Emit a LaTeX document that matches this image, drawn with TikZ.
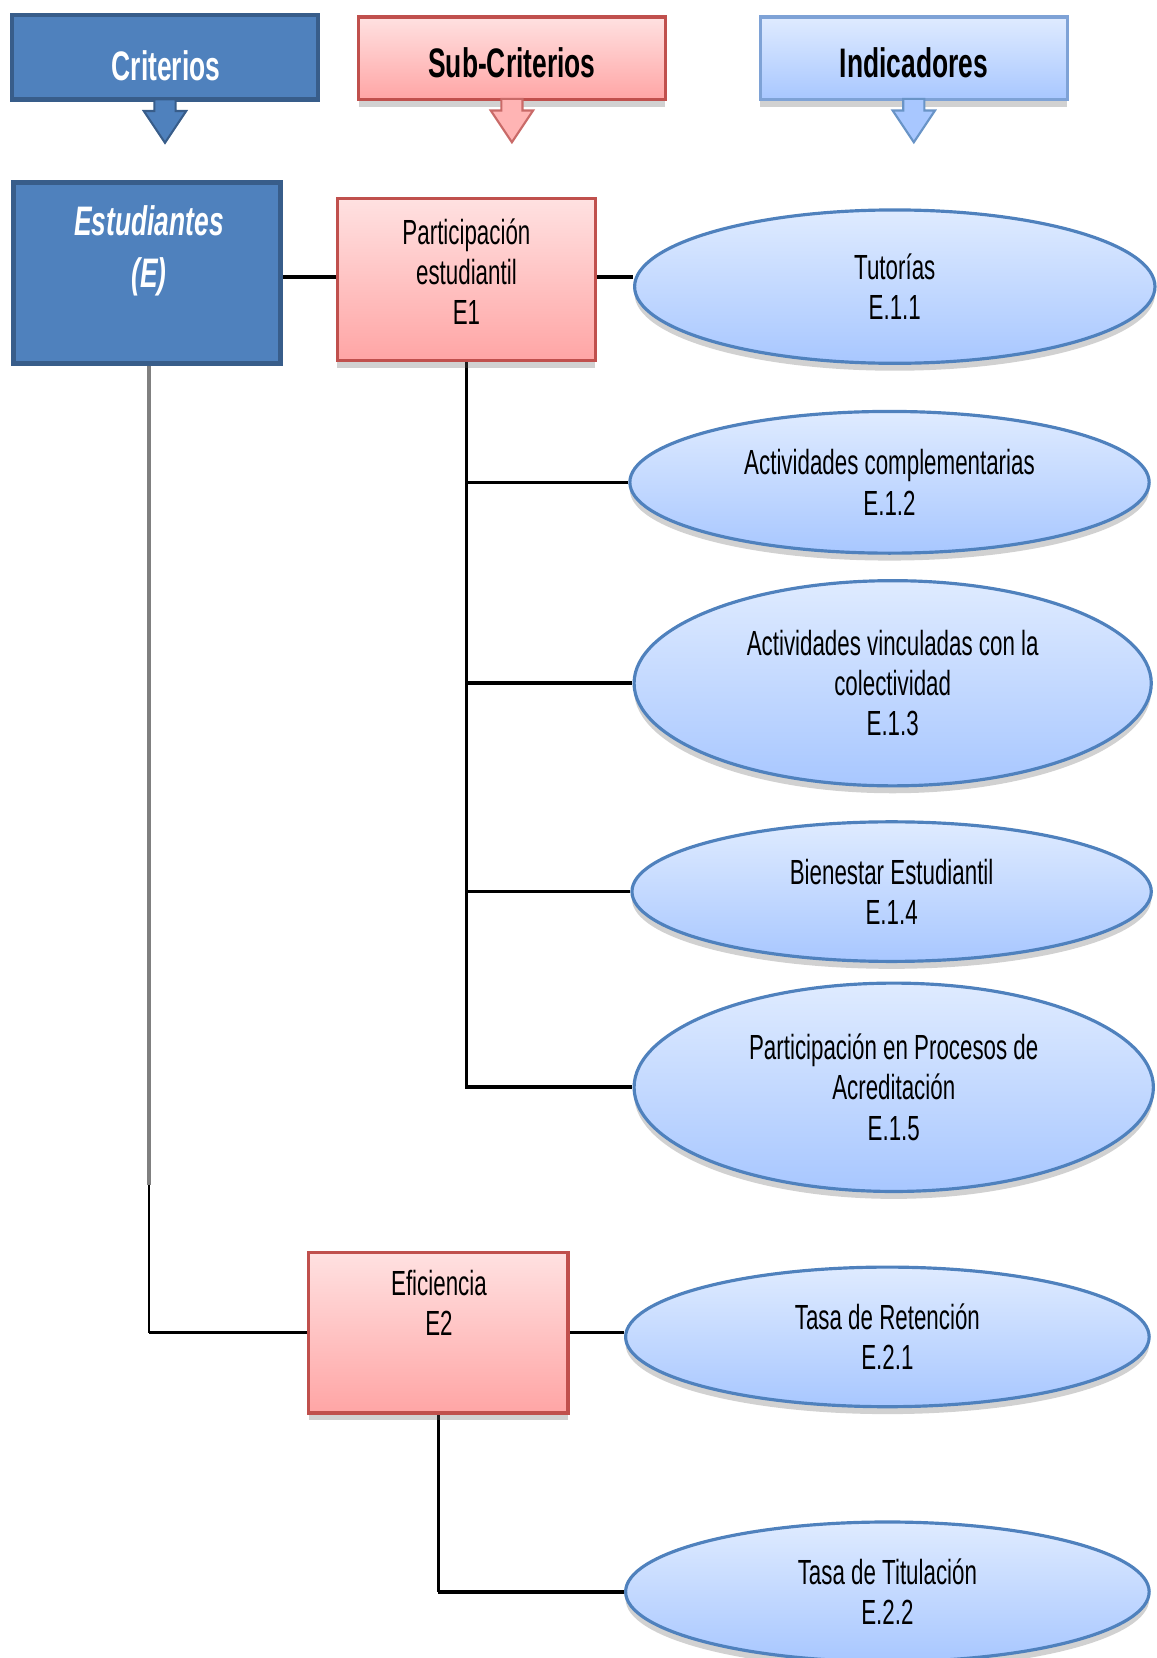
\documentclass[tikz,border=0pt]{standalone}
\usepackage{fontspec}
\setmainfont{Liberation Sans}[FakeStretch=0.64]
\usetikzlibrary{shapes.geometric,shadows,backgrounds}
\definecolor{dkblue}{HTML}{4F81BD}
\definecolor{dkblueb}{HTML}{385D8A}
\definecolor{pinkt}{HTML}{FFE1E1}
\definecolor{pinkb}{HTML}{FFA5A5}
\definecolor{redb}{HTML}{C0504D}
\definecolor{lbt}{HTML}{DFEBFF}
\definecolor{lbb}{HTML}{A8C7FF}
\definecolor{lbh}{HTML}{7EA2D6}
\tikzset{
  body/.style={font=\fontsize{33}{38}\selectfont, align=center, text=black},
  hdr/.style={font=\bfseries\fontsize{39}{44}\selectfont},
  shad/.style={drop shadow={shadow xshift=0pt, shadow yshift=-7pt, opacity=0.3, fill=black!60}},
  pinkbox/.style={rectangle, draw=redb, line width=3pt, top color=pinkt, bottom color=pinkb, inner sep=0pt, shad},
  bluebox/.style={rectangle, draw=dkblueb, line width=5pt, fill=dkblue, inner sep=0pt},
  lightbox/.style={rectangle, draw=lbh, line width=3pt, top color=lbt, bottom color=lbb, inner sep=0pt, shad},
  ind/.style={ellipse, draw=dkblue, line width=3pt, top color=lbt, bottom color=lbb, inner sep=0pt, shad, body},
  conn/.style={line width=3.4pt, black},
  trunk/.style={line width=2.4pt, black},
}
\begin{document}
\begin{tikzpicture}[x=1pt,y=-1pt]
\useasboundingbox (0,0) rectangle (1093,1567.6);

% header boxes
\node[bluebox, line width=4pt, minimum width=290pt, minimum height=80pt] (hc) at (156,54) {};
\node[pinkbox, minimum width=290pt, minimum height=78pt] (hs) at (484,55) {};
\node[lightbox, minimum width=290pt, minimum height=78pt] (hi) at (864,55) {};

% header arrows
\draw[line width=2pt, draw=dkblueb, fill=dkblue] ([shift={(-10,-2)}]hc.south) -- ++(0,11) -- ++(-10,0) -- ++(20,30) -- ++(20,-30) -- ++(-10,0) -- ++(0,-11) -- cycle;
\draw[line width=2pt, draw=redb!85, fill=pinkb!75!pinkt] ([shift={(-10,-2)}]hs.south) -- ++(0,11) -- ++(-10,0) -- ++(20,30) -- ++(20,-30) -- ++(-10,0) -- ++(0,-11) -- cycle;
\draw[line width=2pt, draw=dkblue!85, fill=lbb] ([shift={(-10,-2)}]hi.south) -- ++(0,11) -- ++(-10,0) -- ++(20,30) -- ++(20,-30) -- ++(-10,0) -- ++(0,-11) -- cycle;

\node[hdr, text=white] (hct) at (157,62) {Criterios};
\node[hdr, text=black] (hst) at (484,59) {Sub-Criterios};
\node[hdr, text=black] (hit) at (864,59) {Indicadores};

% criterion
\node[bluebox, minimum width=253pt, minimum height=171pt] (est) at (139,258) {};
\node[font=\bfseries\itshape\fontsize{39}{49}\selectfont, text=white, align=center] (estt) at (141,237) {Estudiantes\\(E)};

% sub-criteria
\node[pinkbox, minimum width=244pt, minimum height=153pt] (e1) at (441,264.5) {};
\node[body] (e1t) at (441,257) {Participación\\estudiantil\\E1};
\node[pinkbox, minimum width=245pt, minimum height=152pt] (e2) at (414.5,1260) {};
\node[body] (e2t) at (415,1231.5) {Eficiencia\\E2};

% indicators
\node[ind, minimum width=492pt, minimum height=145pt] (t1) at (846,271) {Tutorías\\E.1.1};
\node[ind, minimum width=491pt, minimum height=134pt] (t2) at (841,456) {Actividades complementarias\\E.1.2};
\node[ind, minimum width=489pt, minimum height=194pt] (t3) at (844,646) {Actividades vinculadas con la\\colectividad\\E.1.3};
\node[ind, minimum width=491pt, minimum height=132pt] (t4) at (843,843) {Bienestar Estudiantil\\E.1.4};
\node[ind, minimum width=491pt, minimum height=197pt] (t5) at (845,1028) {Participación en Procesos de\\Acreditación\\E.1.5};
\node[ind, minimum width=495pt, minimum height=132pt] (t6) at (839,1264) {Tasa de Retención\\E.2.1};
\node[ind, minimum width=495pt, minimum height=132pt] (t7) at (839,1505) {Tasa de Titulación\\E.2.2};

% connectors
\begin{scope}[on background layer]
\draw[conn] (est.east |- 0,262) -- (e1.west |- 0,262);
\draw[conn] (e1.east |- 0,262) -- (t1.west |- 0,262);
\draw[trunk] (e1.south) -- (e1.south |- t5.west) -- (t5.west);
\draw[conn] (e1.south |- t2.west) -- (t2.west);
\draw[conn] (e1.south |- t3.west) -- (t3.west);
\draw[conn] (e1.south |- t4.west) -- (t4.west);
\draw[conn] (e1.south |- t5.west) -- (t5.west);
\path (est.south) ++(2,774) coordinate (k);
\draw[line width=3.4pt, gray] (est.south -| k) -- (k);
\draw[trunk] (k) -- (k |- e2.west);
\draw[conn] (k |- e2.west) -- (e2.west);
\draw[conn] (e2.east) -- (e2.east -| t6.west);
\draw[trunk] (e2.south) -- (e2.south |- t7.west);
\draw[conn] (e2.south |- t7.west) -- (t7.west);
\end{scope}
\end{tikzpicture}
\end{document}
